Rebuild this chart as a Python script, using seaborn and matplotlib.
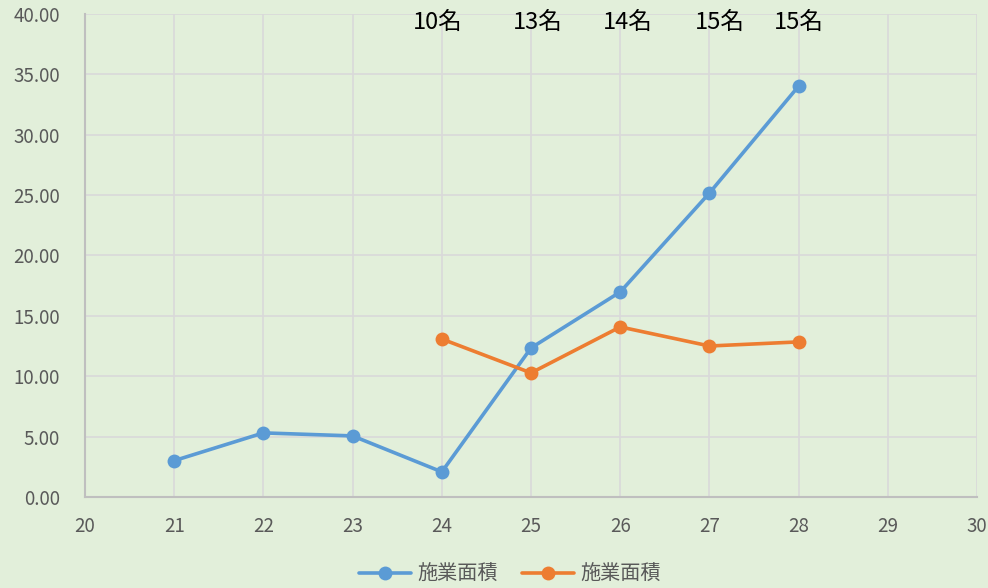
import pandas as pd
import numpy as np
import seaborn as sns
import matplotlib.pyplot as plt

# data
years_blue = [21, 22, 23, 24, 25, 26, 27, 28]
area_blue = [3.0, 5.3, 5.05, 2.07, 12.34, 16.98, 25.18, 34.04]
years_orange = [24, 25, 26, 27, 28]
area_orange = [13.08, 10.27, 14.08, 12.5, 12.84]
series_label = '施業面積'
count_labels = ['10名', '13名', '14名', '15名', '15名']
count_x = [23.95, 25.08, 26.09, 27.12, 28.0]

bg = '#E2EFDA'
sns.set_theme(style='whitegrid')
plt.rcParams['font.family'] = ['Noto Sans CJK JP', 'DejaVu Sans']

fig = plt.figure(figsize=(9.88, 5.88), dpi=100, facecolor=bg)
ax = fig.add_axes([0.086, 0.155, 0.903, 0.821])
ax.set_facecolor(bg)

df_blue = pd.DataFrame({'year': years_blue, 'area': area_blue})
df_orange = pd.DataFrame({'year': years_orange, 'area': area_orange})

sns.lineplot(data=df_blue, x='year', y='area', ax=ax, color='#5B9BD5', linewidth=2.6,
             marker='o', markersize=10, markeredgewidth=0, label=series_label)
sns.lineplot(data=df_orange, x='year', y='area', ax=ax, color='#ED7D31', linewidth=2.6,
             marker='o', markersize=10, markeredgewidth=0, label=series_label)

for txt, xv in zip(count_labels, count_x):
    ax.text(xv, 39.3, txt, ha='center', va='center', fontsize=17, color='black')

ax.set_xlim(20, 30)
ax.set_ylim(0, 40)
ax.set_xticks(range(20, 31))
ax.set_yticks(np.arange(0, 41, 5))
ax.set_yticklabels([f'{v:.2f}' for v in np.arange(0, 41, 5)])
ax.set_xlabel('')
ax.set_ylabel('')
ax.grid(True, color='#D9D9D9', linewidth=1.2)
ax.tick_params(axis='both', length=0, labelsize=13.5, labelcolor='#595959')
ax.tick_params(axis='x', pad=14)
ax.tick_params(axis='y', pad=18)
for s in ['top', 'right']:
    ax.spines[s].set_visible(False)
for s in ['left', 'bottom']:
    ax.spines[s].set_color('#BFBFBF')
    ax.spines[s].set_linewidth(1.5)

leg = ax.legend(loc='center', bbox_to_anchor=(0.476, -0.16), ncol=2, frameon=False,
                fontsize=14.5, handlelength=2.6, handletextpad=0.3, columnspacing=1.2)
for t in leg.get_texts():
    t.set_color('#595959')

fig.savefig('out.png', dpi=100, facecolor=bg)
